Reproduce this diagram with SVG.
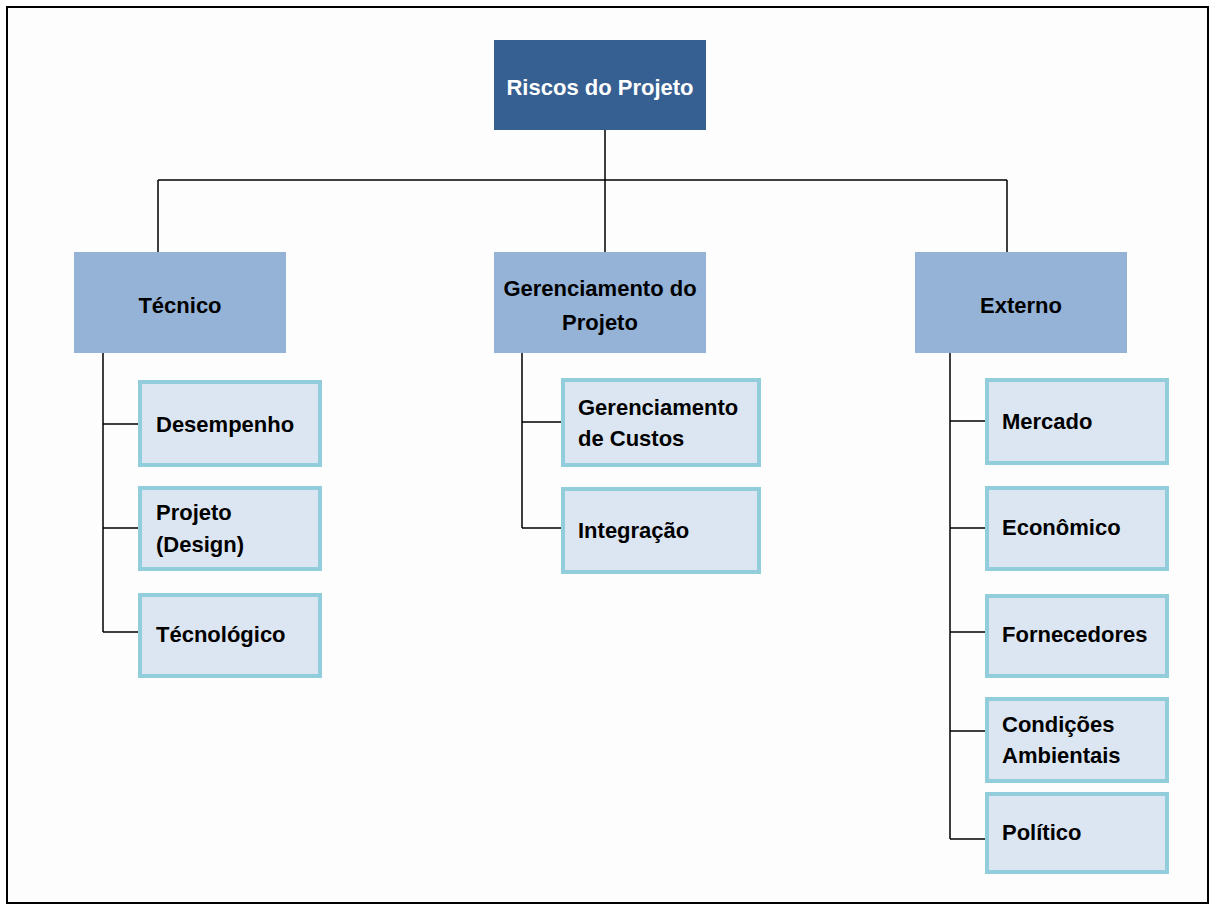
<svg xmlns="http://www.w3.org/2000/svg" width="1215" height="905" viewBox="0 0 1215 905">
<style>
text{font-family:"Liberation Sans",Arial,sans-serif;font-weight:bold;font-size:22px;fill:#000}
.root rect{fill:#376092}
.root text{fill:#fff}
.l1 rect{fill:#95b3d7}
.l2 rect{fill:#dce6f2;stroke:#92cddc;stroke-width:4}
.c{text-anchor:middle}
#connectors path{fill:none;stroke:#000;stroke-width:1.5}
</style>
<rect x="0" y="0" width="1215" height="905" fill="#fff"/>
<rect x="7" y="7" width="1201" height="896" fill="#fdfdfd" stroke="#000" stroke-width="2"/>
<g id="connectors">
<path d="M605 130V180M158 180H1007M158 180V252M605 180V252M1007 180V252"/>
<path d="M103 353V632M103 424H138M103 528H138M103 632H138"/>
<path d="M522 353V528M522 422H562M522 528H562"/>
<path d="M950 353V839M950 421H986M950 528H986M950 632H986M950 731H986M950 839H986"/>
</g>
<g id="root" class="root"><rect x="494" y="40" width="212" height="90"/><text class="c" x="600" y="95">Riscos do Projeto</text></g>
<g id="tecnico" class="l1"><rect x="74" y="252" width="212" height="101"/><text class="c" x="180" y="313">Técnico</text></g>
<g id="gerenciamento" class="l1"><rect x="494" y="252" width="212" height="101"/><text class="c" x="600" y="296">Gerenciamento do</text><text class="c" x="600" y="330">Projeto</text></g>
<g id="externo" class="l1"><rect x="915" y="252" width="212" height="101"/><text class="c" x="1021" y="313">Externo</text></g>
<g id="desempenho" class="l2"><rect x="140" y="382" width="180" height="83"/><text x="156" y="432">Desempenho</text></g>
<g id="projeto-design" class="l2"><rect x="140" y="488" width="180" height="81"/><text x="156" y="520">Projeto</text><text x="156" y="552">(Design)</text></g>
<g id="tecnologico" class="l2"><rect x="140" y="595" width="180" height="81"/><text x="156" y="642">Técnológico</text></g>
<g id="custos" class="l2"><rect x="563" y="380" width="196" height="85"/><text x="578" y="415">Gerenciamento</text><text x="578" y="446">de Custos</text></g>
<g id="integracao" class="l2"><rect x="563" y="489" width="196" height="83"/><text x="578" y="538">Integração</text></g>
<g id="mercado" class="l2"><rect x="987" y="380" width="180" height="83"/><text x="1002" y="429">Mercado</text></g>
<g id="economico" class="l2"><rect x="987" y="488" width="180" height="81"/><text x="1002" y="535">Econômico</text></g>
<g id="fornecedores" class="l2"><rect x="987" y="596" width="180" height="80"/><text x="1002" y="642">Fornecedores</text></g>
<g id="condicoes" class="l2"><rect x="987" y="699" width="180" height="82"/><text x="1002" y="732">Condições</text><text x="1002" y="763">Ambientais</text></g>
<g id="politico" class="l2"><rect x="987" y="794" width="180" height="78"/><text x="1002" y="840">Político</text></g>
</svg>
